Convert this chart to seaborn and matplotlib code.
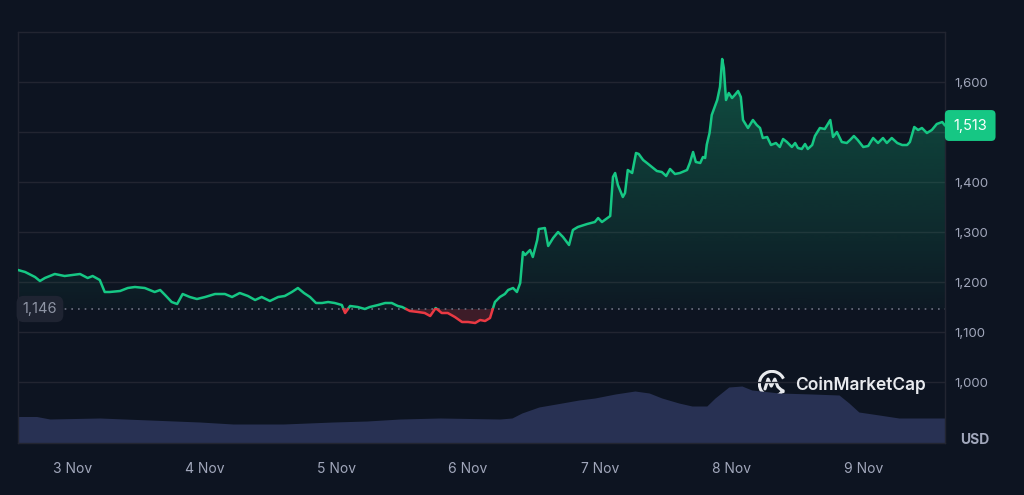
import numpy as np
import pandas as pd
import matplotlib
matplotlib.use("Agg")
import matplotlib.pyplot as plt
import seaborn as sns
from matplotlib.patches import Arc
from matplotlib.path import Path
from matplotlib.patches import PathPatch

# ---------------- data (hours since 3 Nov 00:00) ----------------
hours = [-10.0, -8.7, -6.9, -6.0, -5.1, -3.3, -1.5, 1.3, 2.7, 3.6, 4.9, 5.8, 6.7, 8.6, 10.0,
         11.3, 13.1, 14.0, 14.9, 15.9, 16.8, 18.0, 19.0, 20.0, 21.3, 22.6, 24.1, 25.9, 27.7,
         29.0, 30.4, 31.9, 33.2, 34.4, 35.9, 37.4, 38.6, 39.9, 41.0, 42.1, 43.2, 44.3, 45.4,
         46.5, 47.7, 49.0, 49.6, 50.5, 51.9, 53.2, 54.1, 55.6, 56.9, 58.1, 59.2, 60.0, 61.4,
         62.9, 64.1, 65.1, 66.1, 67.2, 68.3, 69.6, 70.9, 72.0, 73.3, 74.2, 75.1, 76.0, 76.9,
         77.8, 78.7, 79.3, 80.2, 80.9, 81.5, 82.0, 82.4, 83.3, 83.8, 84.6, 84.9, 86.0, 86.6,
         87.5, 88.4, 89.3, 90.4, 91.1, 92.0, 93.7, 95.1, 95.7, 96.4, 97.9, 98.4, 98.8, 99.3,
         100.2, 100.6, 101.1, 101.9, 102.6, 103.1, 103.9, 104.6, 105.5, 106.4, 107.3, 108.1,
         108.8, 109.7, 110.6, 111.9, 112.4, 113.0, 113.5, 114.3, 114.8, 115.2, 115.5, 116.0,
         116.4, 117.4, 117.9, 118.3, 118.6, 119.0, 119.5, 120.1, 120.6, 121.2, 121.7, 122.1,
         123.0, 123.9, 124.6, 125.2, 125.7, 126.5, 127.2, 128.1, 128.8, 129.4, 130.1, 131.0,
         131.6, 132.1, 132.8, 133.4, 133.9, 134.7, 135.2, 136.1, 137.0, 138.0, 138.5, 139.2,
         140.1, 141.0, 141.6, 142.3, 143.0, 144.0, 144.9, 145.8, 146.7, 147.6, 148.3, 149.2,
         150.2, 151.1, 152.0, 152.5, 153.3, 154.0, 154.7, 155.6, 156.5, 157.4, 158.4, 158.9]
price = [1224, 1220, 1210, 1202, 1208, 1216, 1212, 1216, 1208, 1212, 1204, 1180, 1180, 1182, 1188,
         1190, 1188, 1184, 1180, 1184, 1174, 1160, 1156, 1176, 1170, 1166, 1170, 1176, 1176,
         1170, 1178, 1172, 1164, 1170, 1162, 1170, 1172, 1180, 1188, 1178, 1170, 1158, 1158,
         1160, 1158, 1154, 1138, 1152, 1150, 1146, 1150, 1154, 1158, 1158, 1152, 1150, 1142,
         1140, 1138, 1132, 1148, 1138, 1138, 1130, 1120, 1120, 1118, 1124, 1122, 1128, 1160,
         1170, 1176, 1184, 1188, 1180, 1198, 1260, 1254, 1264, 1250, 1284, 1306, 1308, 1272,
         1288, 1300, 1290, 1274, 1304, 1310, 1316, 1320, 1328, 1320, 1332, 1410, 1418, 1394,
         1370, 1378, 1424, 1418, 1458, 1456, 1444, 1438, 1430, 1422, 1420, 1412,
         1426, 1416, 1418, 1424, 1438, 1460, 1440, 1438, 1450, 1448, 1475, 1498,
         1534, 1564, 1590, 1646, 1628, 1564, 1578, 1568, 1574, 1582, 1570, 1524,
         1508, 1524, 1514, 1508, 1488, 1490, 1474, 1478, 1470, 1486, 1480, 1470,
         1478, 1468, 1466, 1476, 1466, 1474, 1492, 1508, 1506, 1524, 1490, 1500,
         1480, 1478, 1484, 1492, 1484, 1470, 1472, 1488, 1478, 1488, 1478, 1488,
         1478, 1474, 1474, 1480, 1510, 1504, 1508, 1498, 1504, 1516, 1520, 1513]

vol_hours = [-10.0, -6.6, -4.2, 4.9, 14.0, 23.1, 29.2, 38.3, 47.4, 53.6, 59.6, 66.9, 77.8, 80.0,
             81.8, 84.9, 89.1, 92.2, 95.1, 98.8, 102.4, 105.0, 107.3, 110.4, 112.8, 115.5,
             117.0, 119.5, 121.9, 123.7, 128.7, 134.7, 139.6, 141.4, 143.2, 146.9, 150.5, 158.9]
volume_musd = [265, 265, 240, 250, 230, 210, 190, 190, 210, 220, 240, 250, 240, 250,
               300, 360, 400, 430, 450, 490, 520, 500, 450, 400, 370, 370,
               450, 560, 570, 530, 500, 490, 480, 400, 310, 280, 250, 250]

day_ticks = [0, 24, 48, 72, 96, 120, 144]
day_labels = ["3 Nov", "4 Nov", "5 Nov", "6 Nov", "7 Nov", "8 Nov", "9 Nov"]
price_ticks = [1000, 1100, 1200, 1300, 1400, 1500, 1600]
# the 1,500 label is hidden behind the current-price badge in the reference
price_tick_labels = ["1,000", "1,100", "1,200", "1,300", "1,400", "", "1,600"]
baseline = 1146
last_price = 1513

# ---------------- style ----------------
BG = "#0d1421"
GRID = "#222531"
TXT = "#a1a7bb"
GREEN = "#16c784"
RED = "#ea3943"

sns.set_style("dark", {"axes.facecolor": BG, "figure.facecolor": BG})
plt.rcParams["font.family"] = ["Inter", "DejaVu Sans"]

fig = plt.figure(figsize=(10.24, 4.95), dpi=100, facecolor=BG)
ax = fig.add_axes([18 / 1024, 52 / 495, 927 / 1024, 411 / 495])
axv = ax.twinx()
ax.set_zorder(2)
axv.set_zorder(1)
ax.patch.set_visible(False)

# ---------------- volume ----------------
axv.fill_between(vol_hours, volume_musd, 0, color="#283153", lw=0)
axv.set_ylim(0, 4110)
axv.set_yticks([])
for s in axv.spines.values():
    s.set_visible(False)

# ---------------- split line at baseline ----------------
t = np.array(hours, dtype=float)
p = np.array(price, dtype=float)
rows = []
seg = 0
side = "up" if p[0] >= baseline else "down"
rows.append((t[0], p[0], seg, side))
for i in range(1, len(t)):
    s = "up" if p[i] >= baseline else "down"
    if s != side:
        frac = (baseline - p[i - 1]) / (p[i] - p[i - 1])
        tc = t[i - 1] + frac * (t[i] - t[i - 1])
        rows.append((tc, baseline, seg, side))
        seg += 1
        side = s
        rows.append((tc, baseline, seg, side))
    rows.append((t[i], p[i], seg, side))
df = pd.DataFrame(rows, columns=["t", "p", "seg", "side"])

# fills
green_fill = ax.fill_between(t, p, baseline, where=p >= baseline, interpolate=True,
                             color="none", lw=0)
grad = np.zeros((256, 1, 4))
grad[:, 0, 0] = 22 / 255
grad[:, 0, 1] = 199 / 255
grad[:, 0, 2] = 132 / 255
grad[:, 0, 3] = np.linspace(0.03, 0.34, 256)
im = ax.imshow(grad, extent=[t[0], t[-1], baseline, max(price)], origin="lower",
               aspect="auto", zorder=1, interpolation="bilinear")
clip = Path.make_compound_path(*green_fill.get_paths())
im.set_clip_path(clip, transform=ax.transData)
ax.fill_between(t, p, baseline, where=p < baseline, interpolate=True,
                color=RED, alpha=0.22, lw=0, zorder=1)

# baseline dotted
ax.axhline(baseline, color="#6b7080", lw=1.2, ls=(0, (1, 3)), zorder=2)

sns.lineplot(data=df, x="t", y="p", units="seg", hue="side", estimator=None, sort=False,
             palette={"up": GREEN, "down": RED}, linewidth=1.8, legend=False, ax=ax, zorder=3)

# ---------------- axes ----------------
ax.set_xlim(t[0], t[-1])
ax.set_ylim(878, 1700)
ax.set_xlabel("")
ax.set_ylabel("")
ax.yaxis.tick_right()
ax.set_yticks(price_ticks, price_tick_labels)
ax.set_xticks(day_ticks, day_labels)
ax.tick_params(axis="y", length=0, pad=7, labelsize=9.5, labelcolor=TXT)
ax.tick_params(axis="x", length=0, pad=14, labelsize=10, labelcolor=TXT)
ax.yaxis.grid(True, color=GRID, lw=1)
ax.xaxis.grid(False)
for s in ax.spines.values():
    s.set_visible(True)
    s.set_color(GRID)
    s.set_linewidth(1)

# badges
ax.text(-6.0, baseline, "1,146", ha="center", va="center", color="#8f95a5", fontsize=10.5,
        zorder=5, bbox=dict(boxstyle="round,pad=0.42,rounding_size=0.5", fc="#1f2432", ec="none"))
ax.annotate("1,513", xy=(1.0, last_price), xycoords=("axes fraction", "data"),
            xytext=(6, 0), textcoords="offset points", ha="left", va="center",
            color="white", fontsize=10.5, annotation_clip=False, zorder=6,
            bbox=dict(boxstyle="round,pad=0.58,rounding_size=0.3", fc=GREEN, ec="none"))

fig.text(975 / 1024, 1 - 440 / 495, "USD", ha="center", va="center", fontweight="bold",
         color=TXT, fontsize=10)

# logo
fig.text(795 / 1024, 1 - 385 / 495, "CoinMarketCap", ha="left", va="center", fontsize=12.5,
         color="#e8eaee", fontweight="semibold")
axl = fig.add_axes([758 / 1024, 1 - 398 / 495, 28 / 1024, 28 / 495])
axl.set_xlim(-1, 1)
axl.set_ylim(-1, 1)
axl.axis("off")
axl.add_patch(Arc((0, 0), 1.8, 1.8, theta1=25, theta2=335, color="#e8eaee", lw=2.2))
wave = Path([(-0.5, -0.35), (-0.28, 0.35), (-0.05, -0.15), (0.2, 0.35), (0.42, -0.2), (0.8, -0.55)],
            [Path.MOVETO] + [Path.LINETO] * 5)
axl.add_patch(PathPatch(wave, fc="none", ec="#e8eaee", lw=2.2, capstyle="round", joinstyle="round"))

fig.savefig("out.png", dpi=100, facecolor=BG)
